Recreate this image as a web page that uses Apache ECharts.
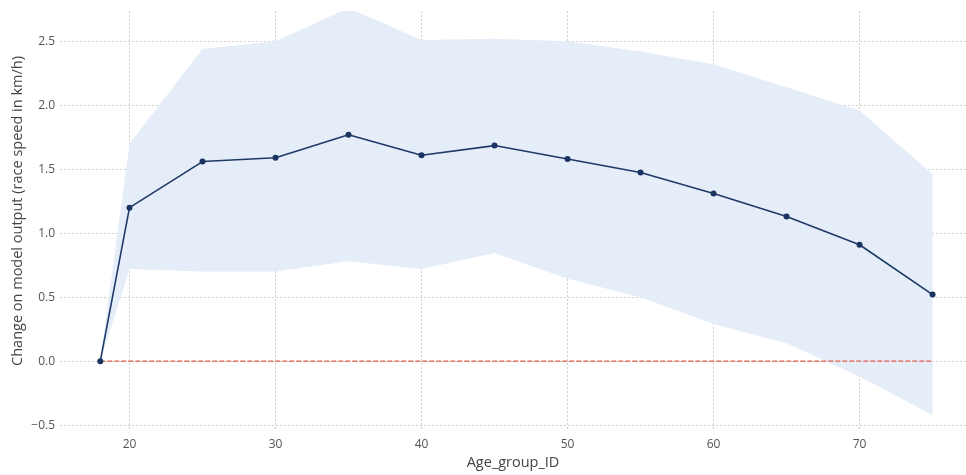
<!DOCTYPE html>
<html>
<head>
<meta charset="utf-8">
<script src="https://cdn.jsdelivr.net/npm/echarts@6/dist/echarts.min.js"></script>
<style>
  html, body { margin: 0; padding: 0; background: #fff; }
  #chart { width: 966px; height: 475px; }
</style>
</head>
<body>
<div id="chart"></div>
<script>
// Age groups and the mean change in predicted race speed (km/h)
const ageGroups = [18, 20, 25, 30, 35, 40, 45, 50, 55, 60, 65, 70, 75];
const meanEffect = [0.0, 1.20, 1.56, 1.59, 1.77, 1.61, 1.685, 1.58, 1.475, 1.31, 1.13, 0.91, 0.52];
// Spread band around the mean
const bandUpper = [0.0, 1.70, 2.44, 2.50, 2.76, 2.51, 2.52, 2.50, 2.42, 2.32, 2.14, 1.96, 1.46];
const bandLower = [0.0, 0.72, 0.70, 0.70, 0.78, 0.72, 0.845, 0.645, 0.50, 0.29, 0.14, -0.12, -0.42];
// Axis tick labels
const xTicks = [20, 30, 40, 50, 60, 70];
const yTicks = [-0.5, 0, 0.5, 1, 1.5, 2, 2.5];

const FONT = '"Open Sans", "DejaVu Sans", sans-serif';
const bandRows = ageGroups.map((a, i) => [a, bandLower[i], bandUpper[i]]);
const meanPts = ageGroups.map((a, i) => [a, meanEffect[i]]);
const zeroPts = [[ageGroups[0], 0], [ageGroups[ageGroups.length - 1], 0]];

// Draws the whole band as one polygon: upper edge left→right, lower edge right→left
function renderBand(params, api) {
  if (params.dataIndex !== 0) return null;
  const upper = bandRows.map(r => api.coord([r[0], r[2]]));
  const lower = bandRows.map(r => api.coord([r[0], r[1]])).reverse();
  const cs = params.coordSys;
  return {
    type: 'group',
    clipPath: { type: 'rect', shape: { x: cs.x, y: cs.y, width: cs.width, height: cs.height } },
    children: [{
      type: 'polygon',
      shape: { points: upper.concat(lower) },
      style: { fill: '#e5edf8', stroke: null }
    }]
  };
}

const chart = echarts.init(document.getElementById('chart'), null, { renderer: 'canvas' });
chart.setOption({
  animation: false,
  backgroundColor: '#ffffff',
  grid: { left: 60, right: 0, top: 11, bottom: 43 },
  xAxis: {
    type: 'value',
    min: 15.24,
    max: 77.29,
    name: 'Age_group_ID',
    nameLocation: 'middle',
    nameGap: 24,
    nameTextStyle: { color: '#444', fontSize: 14.5, fontFamily: FONT },
    axisLine: { show: false },
    axisTick: { show: false, customValues: xTicks },
    axisLabel: { customValues: xTicks, color: '#555', fontSize: 12, fontFamily: FONT, margin: 8 },
    splitLine: { show: true, lineStyle: { color: '#cfcfcf', type: [2, 2], width: 1 } }
  },
  yAxis: {
    type: 'value',
    min: -0.539,
    max: 2.737,
    axisLine: { show: false },
    axisTick: { show: false, customValues: yTicks },
    axisLabel: { customValues: yTicks, color: '#555', fontSize: 12, fontFamily: FONT, margin: 5,
      formatter: v => (v < 0 ? '\u2212' + Math.abs(v).toFixed(1) : v.toFixed(1)) },
    splitLine: { show: true, lineStyle: { color: '#cfcfcf', type: [2, 2], width: 1 } }
  },
  graphic: [{
    type: 'text',
    x: 18, y: 211,
    rotation: Math.PI / 2,
    style: {
      text: 'Change on model output (race speed in km/h)',
      fill: '#444', font: '14.5px ' + FONT,
      align: 'center', verticalAlign: 'middle'
    }
  }],
  series: [
    {
      name: 'band', type: 'custom', data: bandRows,
      encode: { x: 0, y: [1, 2] },
      renderItem: renderBand, silent: true, z: 1
    },
    {
      name: 'zero', type: 'line', data: zeroPts, symbol: 'none',
      lineStyle: { color: '#e25c48', width: 1.3, type: [5, 2] }, z: 3
    },
    {
      name: 'mean', type: 'line', data: meanPts,
      symbol: 'circle', symbolSize: 6,
      itemStyle: { color: '#1b3361' },
      lineStyle: { color: '#1f3a68', width: 1.6 }, z: 4
    }
  ]
});
</script>
</body>
</html>
